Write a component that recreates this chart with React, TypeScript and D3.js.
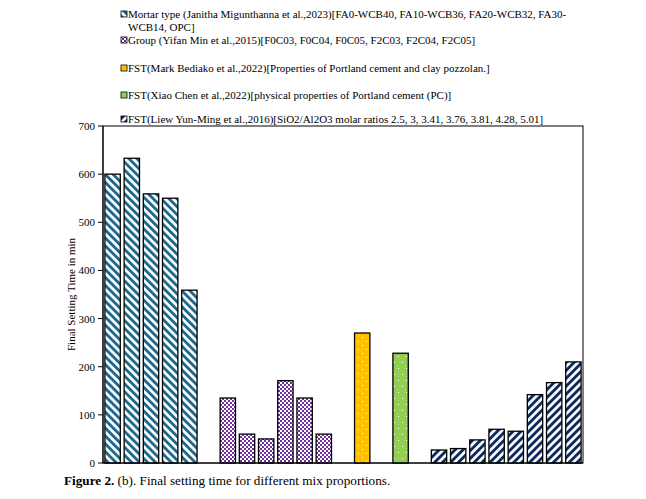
import React from "react";
import * as d3 from "d3";

const W = 646;
const H = 499;

// 25 category slots (empty slots separate the groups)
const slotCount = 25;
const mortarSlots = [0, 1, 2, 3, 4];
const mortarValues = [600, 633, 559, 550, 359];
const groupSlots = [6, 7, 8, 9, 10, 11];
const groupValues = [135, 60, 50, 171, 135, 60];
const beSlots = [13];
const beValues = [270];
const chenSlots = [15];
const chenValues = [228];
const liewSlots = [17, 18, 19, 20, 21, 22, 23, 24];
const liewValues = [27, 30, 48, 70, 66, 142, 167, 210];

const yTicks = [0, 100, 200, 300, 400, 500, 600, 700];

const legendLines: { text: string; pat: string | null; y: number }[] = [
  { text: "Mortar type (Janitha Migunthanna  et al.,2023)[FA0-WCB40, FA10-WCB36, FA20-WCB32, FA30-", pat: "p1", y: 14 },
  { text: "WCB14, OPC]", pat: null, y: 27 },
  { text: "Group (Yifan Min et al.,2015)[F0C03, F0C04, F0C05, F2C03, F2C04, F2C05]", pat: "p2", y: 40 },
  { text: "FST(Mark Bediako et al.,2022)[Properties of Portland cement and clay pozzolan.]", pat: "p3", y: 68 },
  { text: "FST(Xiao Chen et al.,2022)[physical properties of  Portland cement (PC)]", pat: "p4", y: 95 },
  { text: "FST(Liew Yun-Ming et al.,2016)[SiO2/Al2O3 molar ratios 2.5, 3, 3.41, 3.76, 3.81, 4.28, 5.01]", pat: "p5", y: 119 },
];

const series = [
  { slots: mortarSlots, values: mortarValues, pat: "p1" },
  { slots: groupSlots, values: groupValues, pat: "p2" },
  { slots: beSlots, values: beValues, pat: "p3" },
  { slots: chenSlots, values: chenValues, pat: "p4" },
  { slots: liewSlots, values: liewValues, pat: "p5" },
];

export default function App() {
  const left = 103, right = 583, top = 126, bottom = 463;
  const x = d3
    .scaleBand<number>()
    .domain(d3.range(slotCount))
    .range([left, right])
    .paddingInner(0.2)
    .paddingOuter(0.1);
  const y = d3.scaleLinear().domain([0, 700]).range([bottom, top]);
  const font = "'Liberation Serif', 'Times New Roman', serif";

  return (
    <svg width={W} height={H} style={{ position: "absolute", left: 0, top: 0, background: "#fff" }} fontFamily={font}>
      <defs>
        <pattern id="p1" width="5.6" height="5.6" patternUnits="userSpaceOnUse" patternTransform="rotate(-45)">
          <rect width="5.6" height="5.6" fill="#fff" />
          <rect width="2.9" height="5.6" fill="#1f6a8c" />
        </pattern>
        <pattern id="p2" width="4" height="4" patternUnits="userSpaceOnUse">
          <rect width="4" height="4" fill="#fff" />
          <rect width="2" height="2" fill="#7030a0" />
          <rect x="2" y="2" width="2" height="2" fill="#7030a0" />
        </pattern>
        <pattern id="p3" width="8" height="8" patternUnits="userSpaceOnUse">
          <rect width="8" height="8" fill="#ffc000" />
          <rect x="2" y="1" width="1" height="1" fill="#fff" />
          <rect x="6" y="5" width="1" height="1" fill="#fff" />
        </pattern>
        <pattern id="p4" width="8" height="12" patternUnits="userSpaceOnUse">
          <rect width="8" height="12" fill="#92d050" />
          <rect x="2" y="2" width="1" height="1" fill="#fff" />
          <rect x="6" y="8" width="1" height="1" fill="#fff" />
        </pattern>
        <pattern id="p5" width="5.6" height="5.6" patternUnits="userSpaceOnUse" patternTransform="rotate(45)">
          <rect width="5.6" height="5.6" fill="#fff" />
          <rect width="2.9" height="5.6" fill="#0f2a5e" />
        </pattern>
      </defs>

      {/* legend */}
      {legendLines.map((l, i) => (
        <g key={i}>
          {l.pat && (
            <rect x={121} y={l.y - 3} width={6} height={6} fill={`url(#${l.pat})`} stroke="#000" strokeWidth={0.8} />
          )}
          <text x={128} y={l.y + 4} fontSize={11} fill="#000">
            {l.text}
          </text>
        </g>
      ))}

      {/* plot frame */}
      <rect x={left} y={top} width={right - left} height={bottom - top} fill="none" stroke="#000" strokeWidth={1} />

      {/* bars */}
      {series.map((s, si) =>
        s.values.map((v, i) => (
          <rect
            key={`${si}-${i}`}
            x={x(s.slots[i])!}
            y={y(v)}
            width={x.bandwidth()}
            height={y(0) - y(v)}
            fill={`url(#${s.pat})`}
            stroke="#000"
            strokeWidth={1.3}
          />
        ))
      )}

      {/* y axis */}
      <line x1={left} x2={left} y1={top} y2={bottom} stroke="#000" strokeWidth={1} />
      <line x1={left} x2={right} y1={bottom} y2={bottom} stroke="#000" strokeWidth={1} />
      {yTicks.map((t) => (
        <g key={t}>
          <line x1={left - 5} x2={left} y1={y(t)} y2={y(t)} stroke="#000" strokeWidth={1} />
          <text x={95} y={y(t) + 4} fontSize={11} textAnchor="end" fill="#000">
            {t}
          </text>
        </g>
      ))}
      <text
        transform={`translate(75, ${(top + bottom) / 2}) rotate(-90)`}
        textAnchor="middle"
        fontSize={11}
        fill="#000"
      >
        Final Setting Time in min
      </text>

      {/* caption */}
      <text x={64} y={485} fontSize={13.2} fill="#000">
        <tspan fontWeight="bold">Figure 2.</tspan>
        <tspan> (b). Final setting time for different mix proportions.</tspan>
      </text>
    </svg>
  );
}
